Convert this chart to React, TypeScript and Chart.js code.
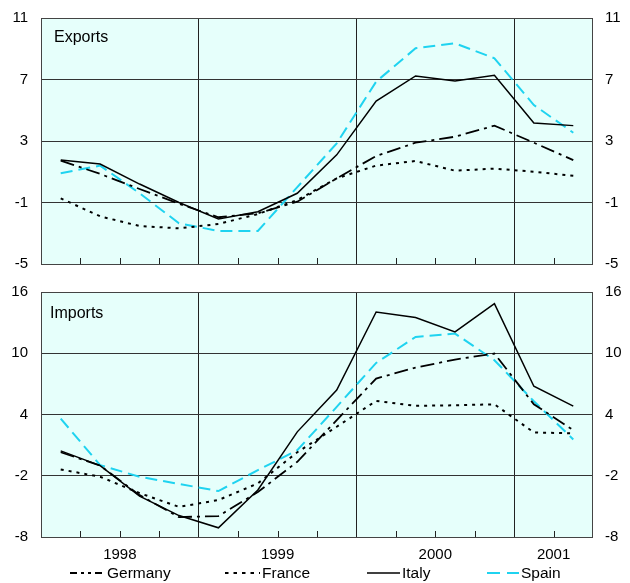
import React, { useEffect, useRef } from 'react';
import { Chart, registerables } from 'chart.js';

Chart.register(...registerables);

// ---- data ----
const quarters = [
  '1998Q1', '1998Q2', '1998Q3', '1998Q4',
  '1999Q1', '1999Q2', '1999Q3', '1999Q4',
  '2000Q1', '2000Q2', '2000Q3', '2000Q4',
  '2001Q1', '2001Q2',
];
const yearLabels = ['1998', '1999', '2000', '2001'];
const yearLabelAt = [2, 6, 10, 13];
const yearBoundaries = [4, 8, 12];

const exportsTicks = [-5, -1, 3, 7, 11];
const importsTicks = [-8, -2, 4, 10, 16];

const exportsGermany = [1.72, 0.86, -0.12, -1.08, -1.96, -1.7, -0.95, 0.57, 2.02, 2.89, 3.28, 4.0, 2.89, 1.76];
const exportsFrance = [-0.73, -1.9, -2.53, -2.68, -2.4, -1.75, -0.84, 0.57, 1.4, 1.7, 1.07, 1.2, 1.0, 0.74];
const exportsItaly = [1.76, 1.5, 0.2, -1.0, -2.07, -1.6, -0.4, 2.1, 5.6, 7.23, 6.9, 7.27, 4.17, 4.0];
const exportsSpain = [0.9, 1.4, -0.4, -2.35, -2.85, -2.85, 0.0, 2.85, 6.86, 9.03, 9.35, 8.38, 5.34, 3.54];

const importsGermany = [0.3, -1.0, -3.9, -6.05, -5.95, -3.6, -0.63, 3.45, 7.52, 8.6, 9.38, 9.97, 5.0, 2.47];
const importsFrance = [-1.38, -2.1, -3.7, -5.05, -4.38, -2.75, 0.3, 2.8, 5.33, 4.85, 4.9, 5.0, 2.24, 2.15];
const importsItaly = [0.44, -1.0, -4.0, -5.9, -7.1, -3.4, 2.3, 6.4, 14.04, 13.5, 12.09, 14.86, 6.77, 4.82];
const importsSpain = [3.6, -0.96, -2.1, -2.8, -3.5, -1.45, 0.5, 4.75, 9.05, 11.6, 11.93, 9.32, 5.3, 1.56];

const seriesNames = ['Germany', 'France', 'Italy', 'Spain'];

// ---- styles ----
const FONT = '"Liberation Sans", Arial, Helvetica, sans-serif';
const CYAN = '#1fd3f0';
const BG = '#e6fffb';
const seriesStyle = [
  { color: '#000000', dash: [14, 5, 3, 5], width: 1.8 },
  { color: '#000000', dash: [3, 5], width: 2 },
  { color: '#000000', dash: [], width: 1.5 },
  { color: CYAN, dash: [12, 6], width: 2 },
];

const toPoints = (vals: number[]) => vals.map((v, i) => ({ x: i + 0.5, y: v, q: quarters[i] }));

function panelPlugin(title: string, titleX: number, titleDy: number) {
  return {
    id: 'panel_' + title,
    beforeDraw(chart: any) {
      const { ctx, chartArea: a } = chart;
      ctx.save();
      ctx.fillStyle = BG;
      ctx.fillRect(a.left, a.top, a.right - a.left, a.bottom - a.top);
      ctx.restore();
    },
    beforeDatasetsDraw(chart: any) {
      const { ctx, chartArea: a } = chart;
      const xs = chart.scales.x;
      ctx.save();
      ctx.strokeStyle = '#222';
      ctx.lineWidth = 1;
      ctx.beginPath();
      for (let v = 1; v < quarters.length; v++) {
        if (yearBoundaries.includes(v)) continue;
        const px = Math.round(xs.getPixelForValue(v)) + 0.5;
        ctx.moveTo(px, a.bottom);
        ctx.lineTo(px, a.bottom - 6);
      }
      ctx.stroke();
      ctx.strokeStyle = '#444';
      ctx.strokeRect(Math.round(a.left) + 0.5, Math.round(a.top) + 0.5, Math.round(a.right - a.left) - 1, Math.round(a.bottom - a.top));
      ctx.fillStyle = '#000';
      ctx.font = '16px ' + FONT;
      ctx.textBaseline = 'middle';
      ctx.textAlign = 'left';
      ctx.fillText(title, titleX, a.top + titleDy);
      ctx.restore();
    },
  };
}

function makeConfig(opts: {
  title: string; titleX: number; titleDy: number;
  series: number[][]; ticks: number[]; showX: boolean; padTop: number; xHeight: number;
}) {
  const { ticks } = opts;
  const yCommon = (position: 'left' | 'right') => ({
    type: 'linear',
    position,
    min: ticks[0],
    max: ticks[ticks.length - 1],
    afterBuildTicks: (s: any) => { s.ticks = ticks.map((v) => ({ value: v })); },
    afterFit: (s: any) => {
      s.width = position === 'left' ? 41 : 37;
      s.paddingTop = 8;
      s.paddingBottom = 8;
    },
    border: { display: false },
    grid: {
      display: position === 'left',
      drawTicks: false,
      color: (c: any) => (c.tick && (c.tick.value === ticks[0] || c.tick.value === ticks[ticks.length - 1]) ? 'rgba(0,0,0,0)' : '#333'),
      lineWidth: 1,
    },
    ticks: {
      padding: position === 'left' ? 13 : 12,
      color: '#000',
      font: { family: FONT, size: 15 },
    },
  });
  return {
    type: 'line',
    data: {
      datasets: opts.series.map((vals, i) => ({
        label: seriesNames[i],
        data: toPoints(vals),
        borderColor: seriesStyle[i].color,
        borderDash: seriesStyle[i].dash,
        borderWidth: seriesStyle[i].width,
        pointRadius: 0,
        fill: false,
        tension: 0,
        yAxisID: 'y',
      })),
    },
    options: {
      animation: false,
      responsive: false,
      devicePixelRatio: 1,
      layout: { padding: { top: opts.padTop, left: 0, right: 0, bottom: 0 } },
      plugins: { legend: { display: false }, tooltip: { enabled: false } },
      scales: {
        x: {
          type: 'linear',
          min: 0,
          max: quarters.length,
          afterBuildTicks: (s: any) => { s.ticks = quarters.map((_, i) => ({ value: i })).concat([{ value: quarters.length }]); },
          afterFit: (s: any) => { s.height = opts.xHeight; },
          border: { display: false },
          grid: {
            drawTicks: false,
            color: (c: any) => (c.tick && yearBoundaries.includes(c.tick.value) ? '#222' : 'rgba(0,0,0,0)'),
            lineWidth: 1,
          },
          ticks: {
            display: opts.showX,
            autoSkip: false,
            maxRotation: 0,
            padding: 9,
            color: '#000',
            font: { family: FONT, size: 15 },
            callback: (v: any) => {
              const k = yearLabelAt.indexOf(Number(v));
              return k >= 0 ? yearLabels[k] : '';
            },
          },
        },
        y: yCommon('left'),
        y2: yCommon('right'),
      },
    },
    plugins: [panelPlugin(opts.title, opts.titleX, opts.titleDy)],
  } as any;
}

function Panel(props: { cfg: any; height: number; top: number }) {
  const ref = useRef<HTMLCanvasElement | null>(null);
  useEffect(() => {
    if (!ref.current) return;
    const ch = new Chart(ref.current, props.cfg);
    return () => ch.destroy();
  }, []);
  return (
    <canvas
      ref={ref}
      width={630}
      height={props.height}
      style={{ position: 'absolute', left: 0, top: props.top, width: 630, height: props.height, display: 'block' }}
    />
  );
}

const legendItems = [
  { name: 'Germany', x: 70, w: 35, dash: '7 4 3 4 3 4', color: '#000', sw: 2 },
  { name: 'France', x: 225, w: 35, dash: '3.5 5', color: '#000', sw: 2 },
  { name: 'Italy', x: 367, w: 33, dash: '', color: '#000', sw: 1.5 },
  { name: 'Spain', x: 487, w: 32, dash: '13 7', color: CYAN, sw: 2 },
];

export default function App() {
  const exportsCfg = makeConfig({
    title: 'Exports', titleX: 54, titleDy: 20,
    series: [exportsGermany, exportsFrance, exportsItaly, exportsSpain],
    ticks: exportsTicks, showX: false, padTop: 18, xHeight: 16,
  });
  const importsCfg = makeConfig({
    title: 'Imports', titleX: 50, titleDy: 22,
    series: [importsGermany, importsFrance, importsItaly, importsSpain],
    ticks: importsTicks, showX: true, padTop: 12, xHeight: 33,
  });
  return (
    <div style={{ position: 'absolute', left: 0, top: 0, width: 630, height: 583, overflow: 'hidden', background: '#fff' }}>
      <Panel cfg={exportsCfg} height={280} top={0} />
      <Panel cfg={importsCfg} height={290} top={280} />
      {legendItems.map((it) => (
        <div key={it.name} style={{ position: 'absolute', left: it.x, top: 564, height: 18, display: 'flex', alignItems: 'center', fontFamily: FONT, fontSize: 15.5, color: '#000', whiteSpace: 'nowrap' }}>
          <svg width={it.w} height={4} style={{ display: 'block', marginRight: 2 }}>
            <line x1={0} y1={2} x2={it.w} y2={2} stroke={it.color} strokeWidth={it.sw} strokeDasharray={it.dash || undefined} />
          </svg>
          <span>{it.name}</span>
        </div>
      ))}
    </div>
  );
}
